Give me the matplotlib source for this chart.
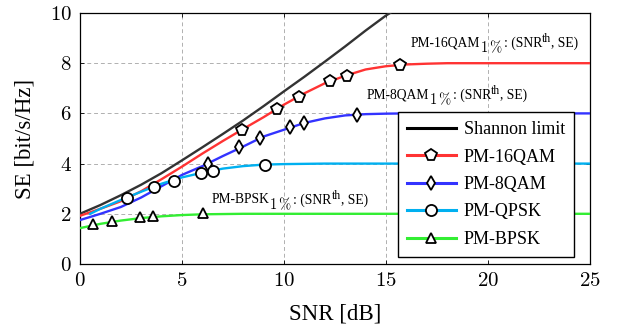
import matplotlib
matplotlib.use("Agg")
import matplotlib.pyplot as plt
from matplotlib.ticker import FixedLocator, FuncFormatter
from matplotlib.lines import Line2D
from matplotlib.transforms import offset_copy

plt.rcParams['font.family'] = ['Liberation Serif', 'DejaVu Serif']
plt.rcParams['mathtext.fontset'] = 'cm'

# Curves
shannon_x = [0, 1, 2, 3, 4, 5, 6, 7, 8, 9, 10, 11, 12, 13, 14, 15, 15.2]
shannon_y = [2.00, 2.35, 2.74, 3.16, 3.62, 4.13, 4.65, 5.18, 5.72, 6.29, 6.88, 7.46, 8.06, 8.67, 9.30, 9.90, 10.0]

qam16_x = [0, 1, 2, 3, 4, 5, 6, 7, 8, 9, 10, 11, 12, 13, 14, 15, 16, 17, 18, 20, 25]
qam16_y = [1.92, 2.2, 2.5, 2.9, 3.38, 3.88, 4.4, 4.9, 5.38, 5.85, 6.35, 6.8, 7.2, 7.5, 7.75, 7.88, 7.95, 7.98, 8.0, 8.0, 8.0]

qam8_x = [0, 1, 2, 3, 4, 5, 6, 7, 8, 9, 10, 11, 12, 13, 14, 15, 16, 18, 25]
qam8_y = [1.75, 2.0, 2.27, 2.65, 3.1, 3.55, 3.9, 4.3, 4.68, 5.08, 5.35, 5.62, 5.8, 5.92, 5.97, 5.99, 6.0, 6.0, 6.0]

qpsk_x = [0.5, 1, 2, 3, 4, 5, 6, 7, 8, 9, 10, 11, 12, 14, 25]
qpsk_y = [2.0, 2.2, 2.55, 2.88, 3.2, 3.45, 3.64, 3.8, 3.9, 3.96, 3.98, 3.99, 4.0, 4.0, 4.0]

bpsk_x = [0, 1, 2, 3, 4, 5, 6, 7, 8, 10, 25]
bpsk_y = [1.43, 1.6, 1.73, 1.83, 1.9, 1.95, 1.98, 1.99, 2.0, 2.0, 2.0]

# Markers
qam16_mx = [7.96, 9.66, 10.73, 12.25, 13.09, 15.69]
qam16_my = [5.34, 6.16, 6.67, 7.29, 7.49, 7.93]
qam8_mx = [6.26, 7.81, 8.84, 10.29, 10.98, 13.6]
qam8_my = [3.98, 4.65, 5.03, 5.46, 5.6, 5.94]
qpsk_mx = [2.32, 3.64, 4.59, 5.93, 6.5, 9.07]
qpsk_my = [2.64, 3.07, 3.32, 3.63, 3.72, 3.96]
bpsk_mx = [0.65, 1.58, 2.96, 3.58, 6.03]
bpsk_my = [1.58, 1.72, 1.86, 1.9, 2.04]

labels = ['Shannon limit', 'PM-16QAM', 'PM-8QAM', 'PM-QPSK', 'PM-BPSK']
annot_names = ['PM-16QAM', 'PM-8QAM', 'PM-BPSK']
annot_x = [16.2, 14.05, 6.45]
annot_y = [8.8, 6.73, 2.55]
xticks = [0, 5, 10, 15, 20, 25]
yticks = [0, 2, 4, 6, 8, 10]

c_red = '#ff3333'
c_blue = '#3333ff'
c_cyan = '#00b0f0'
c_green = '#33ee33'
c_black = '#333333'

fig = plt.figure(figsize=(6.21, 3.33), dpi=100)
ax = fig.add_axes([80/621, 69/333, 510/621, 251/333])

lw = 1.7
mk = dict(markerfacecolor='white', markeredgecolor='black', markeredgewidth=1.3, linestyle='none')

ax.plot(shannon_x, shannon_y, color=c_black, lw=lw, zorder=3)
ax.plot(qam16_x, qam16_y, color=c_red, lw=lw, zorder=3)
ax.plot(qam8_x, qam8_y, color=c_blue, lw=lw, zorder=3)
ax.plot(qpsk_x, qpsk_y, color=c_cyan, lw=lw, zorder=3)
ax.plot(bpsk_x, bpsk_y, color=c_green, lw=lw, zorder=3)

ax.plot(qam16_mx, qam16_my, marker='p', markersize=8.5, zorder=4, **mk)
ax.plot(qam8_mx, qam8_my, marker='d', markersize=7, zorder=4, **mk)
ax.plot(qpsk_mx, qpsk_my, marker='o', markersize=8, zorder=4, **mk)
ax.plot(bpsk_mx, bpsk_my, marker='^', markersize=7, zorder=4, **mk)

mkh = dict(markerfacecolor='white', markeredgecolor='black', markeredgewidth=1.3)
handles = [
    Line2D([], [], color='black', lw=2.2),
    Line2D([], [], color=c_red, lw=2.2, marker='p', markersize=8.5, **mkh),
    Line2D([], [], color=c_blue, lw=2.2, marker='d', markersize=7, **mkh),
    Line2D([], [], color=c_cyan, lw=2.2, marker='o', markersize=8, **mkh),
    Line2D([], [], color=c_green, lw=2.2, marker='^', markersize=7, **mkh),
]
leg = ax.legend(handles, labels, loc='lower right', bbox_to_anchor=(0.969, 0.028),
                borderaxespad=0, fancybox=False, edgecolor='black', framealpha=1,
                fontsize=13, handlelength=2.7, labelspacing=0.58, handletextpad=0.45,
                borderpad=0.5)
leg.get_frame().set_linewidth(1.0)
leg.set_zorder(10)
for t in leg.get_texts():
    t.set_ha('center')
leg._legend_box.align = 'center'

ax.set_xlim(0, 25)
ax.set_ylim(0, 10)
ax.xaxis.set_major_locator(FixedLocator(xticks))
ax.yaxis.set_major_locator(FixedLocator(yticks))
ax.xaxis.set_major_formatter(FuncFormatter(lambda v, p: r'$%d$' % v))
ax.yaxis.set_major_formatter(FuncFormatter(lambda v, p: r'$%d$' % v))
ax.tick_params(direction='in', labelsize=15, length=3, width=0.6, top=True, right=True, pad=6)
ax.grid(True, linestyle=(0, (4, 3)), color='#b0b0b0', linewidth=0.7, zorder=0)
for s in ax.spines.values():
    s.set_linewidth(0.9)
ax.set_xlabel('SNR [dB]', fontsize=16.5, labelpad=9)
ax.set_ylabel('SE [bit/s/Hz]', fontsize=16.5, labelpad=10)

# composite annotations: name, lowered "1%", ": (SNR", raised "th", ", SE)"
renderer = fig.canvas.get_renderer()
def place(x, y, name):
    pieces = [(name, 9.8, 0, 0), (r'$1\,\%$', 10.5, -4, 1), (': (SNR', 9.8, 0, 0),
              ('th', 8.5, 4, 0), (', SE)', 9.8, 0, 0)]
    dx = 0.0
    for txt, fs, dy, gap in pieces:
        tr = offset_copy(ax.transData, fig=fig, x=dx, y=dy, units='dots')
        t = ax.text(x, y, txt, fontsize=fs, transform=tr, va='center', ha='left', zorder=5)
        bb = t.get_window_extent(renderer=renderer)
        dx += bb.width + gap

for n, x, y in zip(annot_names, annot_x, annot_y):
    place(x, y, n)

fig.savefig('out.png', dpi=100)
